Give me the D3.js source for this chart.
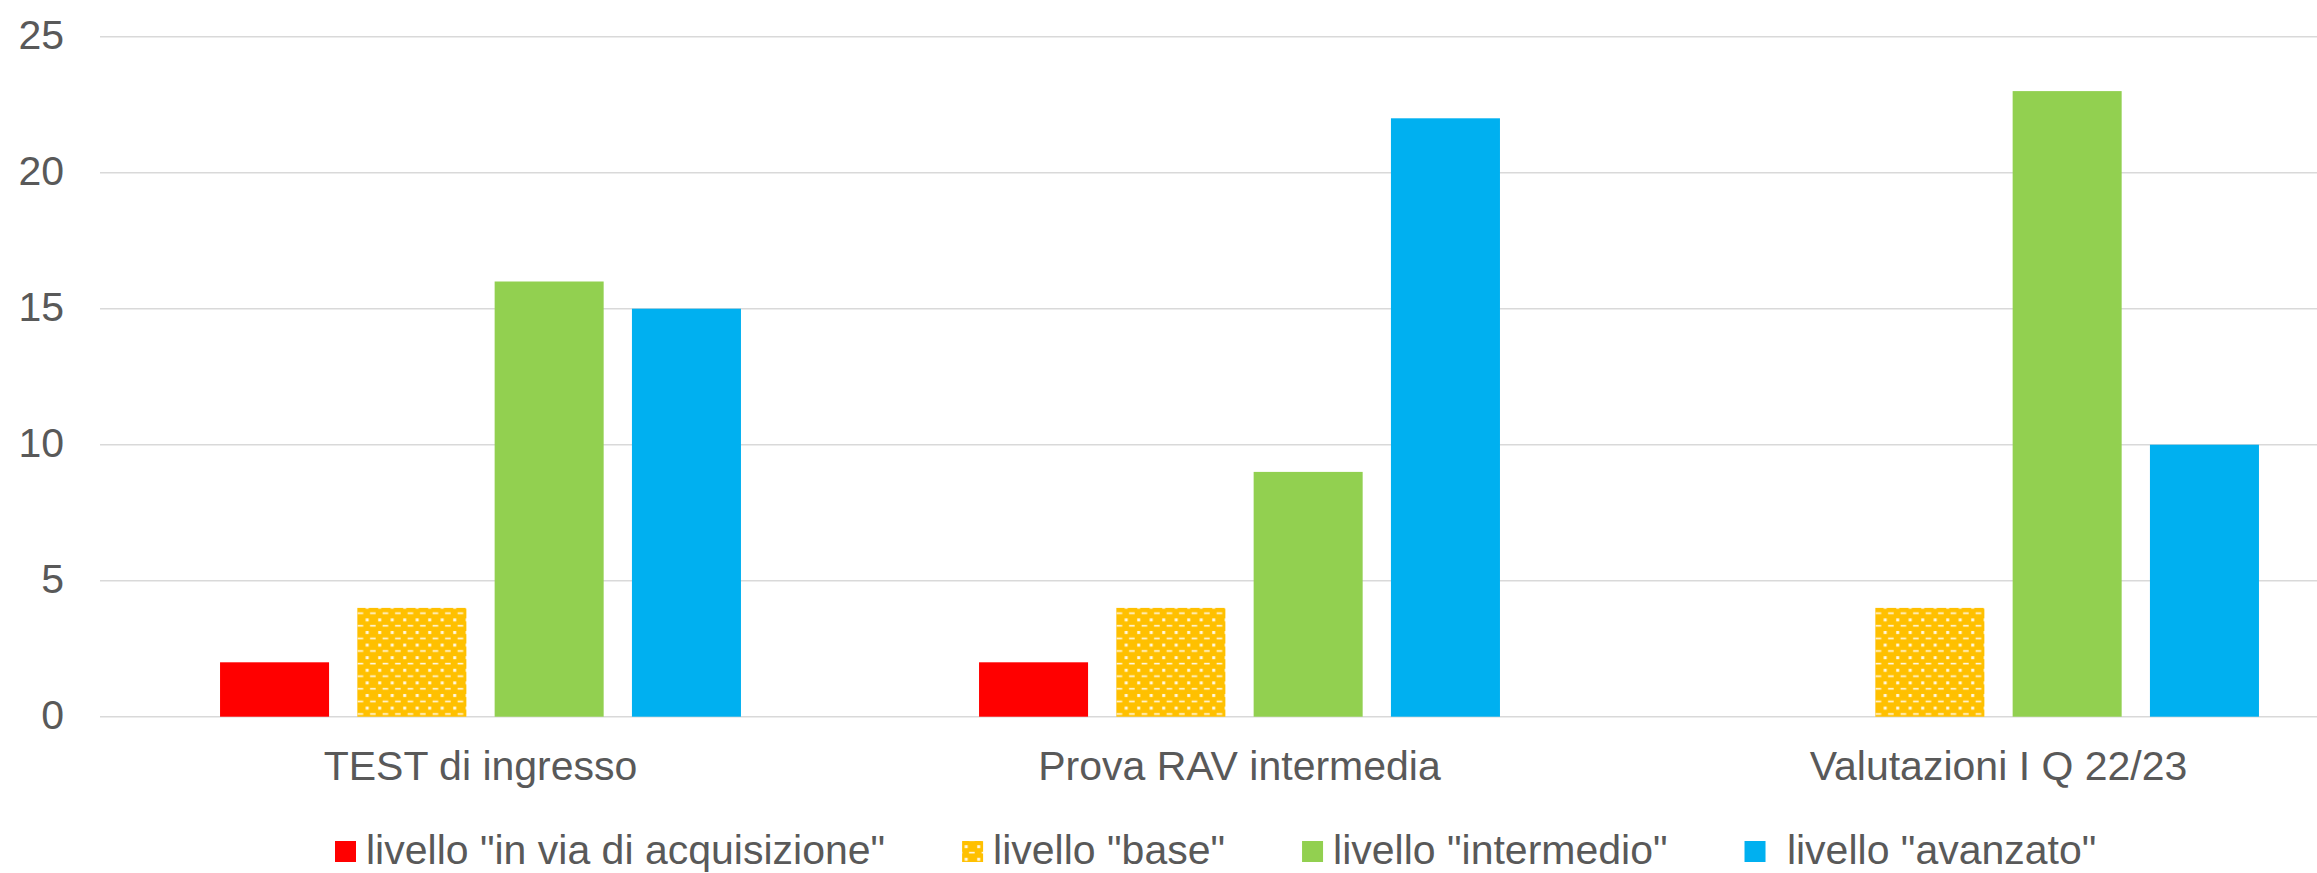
<!DOCTYPE html>
<html>
<head>
<meta charset="utf-8">
<script src="https://cdn.jsdelivr.net/npm/d3@7"></script>
<style>
  html, body { margin: 0; padding: 0; background: #ffffff; overflow: hidden; }
  svg { display: block; }
  text { font-family: "Liberation Sans", Arial, sans-serif; fill: #595959; }
</style>
</head>
<body>
<script>
// ---- data ----
const categories = ["TEST di ingresso", "Prova RAV intermedia", "Valutazioni I Q 22/23"];
const seriesNames = ['livello "in via di acquisizione"', 'livello "base"', 'livello "intermedio"', ' livello "avanzato"'];
const inViaDiAcquisizione = [2, 2, 0];
const base = [4, 4, 4];
const intermedio = [16, 9, 23];
const avanzato = [15, 22, 10];
const yTicks = [0, 5, 10, 15, 20, 25];

const seriesValues = [inViaDiAcquisizione, base, intermedio, avanzato];
const seriesColors = ["#FF0000", "url(#weave)", "#92D050", "#00B0F0"];

// ---- layout ----
const W = 2317, H = 873;
const svg = d3.select("body").append("svg").attr("width", W).attr("height", H);

const defs = svg.append("defs");
const pat = defs.append("pattern")
  .attr("id", "weave")
  .attr("patternUnits", "userSpaceOnUse")
  .attr("width", 12.5).attr("height", 12.6);
pat.append("rect").attr("width", 12.5).attr("height", 12.6).attr("fill", "#FFC000");
pat.append("rect").attr("x", 2.2).attr("y", 1.0).attr("width", 3).attr("height", 3).attr("fill", "#FFF8E6");
pat.append("rect").attr("x", 6.6).attr("y", 7.6).attr("width", 5.6).attr("height", 1.6).attr("fill", "#FFF8E6");

const x0 = d3.scaleBand().domain(categories).range([101, 2378]).padding(0);
const x1 = d3.scaleBand().domain(d3.range(seriesNames.length))
  .range([0, x0.bandwidth()]).paddingInner(0.206).paddingOuter(0.867);
const y = d3.scaleLinear().domain([0, 25]).range([716.7, 36.7]);

// gridlines
const grid = svg.append("g");
grid.selectAll("line").data(yTicks).join("line")
  .attr("x1", 100).attr("x2", 2378)
  .attr("y1", d => y(d)).attr("y2", d => y(d))
  .attr("stroke", "#D9D9D9").attr("stroke-width", 1.6);

// y tick labels
svg.append("g").selectAll("text").data(yTicks).join("text")
  .attr("x", 64).attr("y", d => y(d) + 12.5)
  .attr("text-anchor", "end")
  .attr("font-size", 41)
  .text(d => d);

// bars
const groups = svg.append("g").selectAll("g").data(categories).join("g")
  .attr("transform", c => `translate(${x0(c)},0)`);
groups.selectAll("rect")
  .data((c, ci) => seriesValues.map((vals, si) => ({ si, v: vals[ci] })))
  .join("rect")
  .attr("x", d => x1(d.si))
  .attr("width", x1.bandwidth())
  .attr("y", d => y(d.v))
  .attr("height", d => y(0) - y(d.v))
  .attr("fill", d => seriesColors[d.si]);

// category labels
svg.append("g").selectAll("text").data(categories).join("text")
  .attr("x", c => x0(c) + x0.bandwidth() / 2)
  .attr("y", 780)
  .attr("text-anchor", "middle")
  .attr("font-size", 41)
  .text(c => c);

// legend
const legend = svg.append("g");
let lx = 335;
seriesNames.forEach((name, i) => {
  legend.append("rect")
    .attr("x", lx).attr("y", 841)
    .attr("width", 21).attr("height", 21)
    .attr("fill", seriesColors[i]);
  const t = legend.append("text")
    .attr("x", lx + 31).attr("y", 864)
    .attr("font-size", 41)
    .attr("xml:space", "preserve")
    .style("white-space", "pre")
    .text(name);
  const w = t.node().getComputedTextLength();
  lx = lx + 31 + w + 77;
});
</script>
</body>
</html>
